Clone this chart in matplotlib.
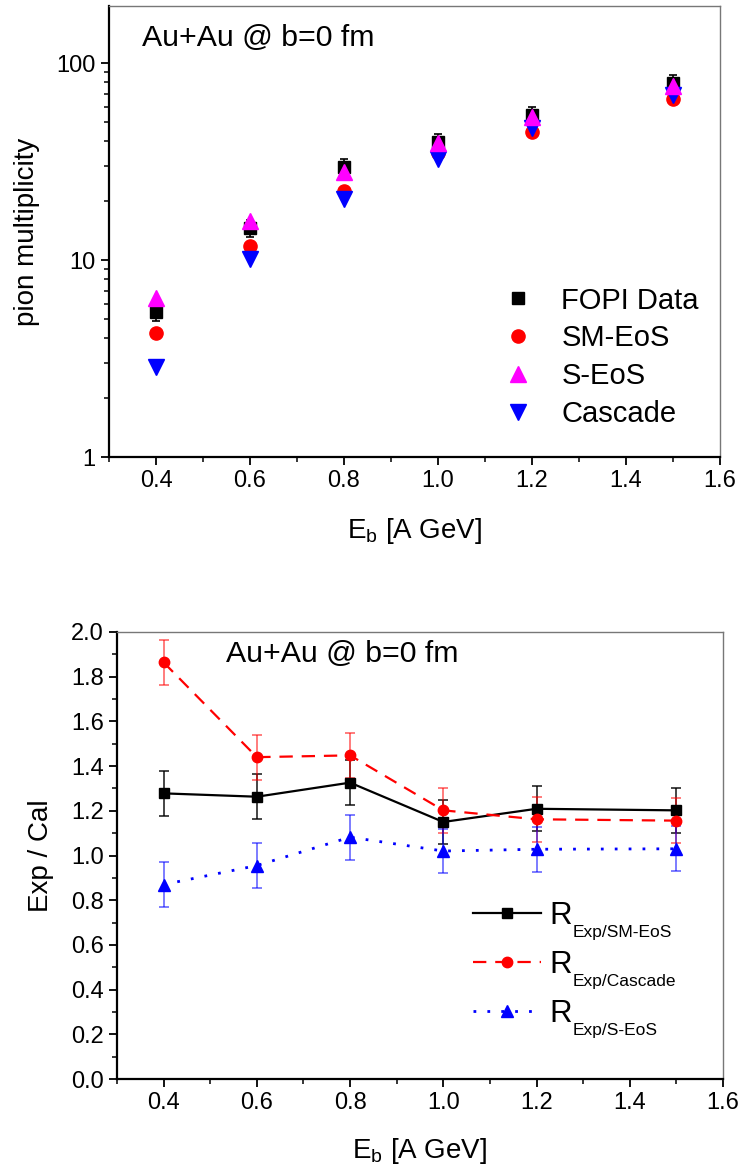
import numpy as np
import matplotlib
matplotlib.use('Agg')
import matplotlib.pyplot as plt
from matplotlib.ticker import FixedLocator, MultipleLocator, NullFormatter, LogLocator
from matplotlib import font_manager

plt.rcParams['font.family'] = ['Liberation Sans', 'DejaVu Sans']
plt.rcParams['mathtext.fontset'] = 'custom'
plt.rcParams['mathtext.rm'] = 'Liberation Sans'
plt.rcParams['mathtext.it'] = 'Liberation Sans:italic'

names = {f.name for f in font_manager.fontManager.ttflist}
narrow = 'Liberation Sans Narrow' if 'Liberation Sans Narrow' in names else 'Liberation Sans'

# beam energies [A GeV]
energy = [0.4, 0.6, 0.8, 1.0, 1.2, 1.5]

# pion multiplicities
fopi = [5.45, 14.5, 29.6, 39.7, 54.5, 79.0]
fopi_err = [0.55, 1.45, 2.9, 3.9, 5.4, 7.8]
sm_eos = [4.26, 11.8, 22.4, 34.9, 44.7, 65.6]
s_eos = [6.4, 15.8, 28.0, 39.3, 53.2, 76.4]
cascade = [2.86, 10.1, 20.4, 32.6, 46.8, 68.8]

# ratios exp / cal
r_sm = [1.278, 1.263, 1.326, 1.150, 1.209, 1.202]
r_casc = [1.864, 1.440, 1.448, 1.202, 1.162, 1.156]
r_s = [0.870, 0.955, 1.082, 1.020, 1.028, 1.030]
r_err = [0.1, 0.1, 0.1, 0.1, 0.1, 0.1]
r_subs = ['Exp/SM-EoS', 'Exp/Cascade', 'Exp/S-EoS']

fig = plt.figure(figsize=(7.41, 11.76), dpi=100)


def style_axes(ax):
    for s in ['left', 'bottom']:
        ax.spines[s].set_linewidth(1.6)
        ax.spines[s].set_color('black')
    for s in ['top', 'right']:
        ax.spines[s].set_linewidth(1.0)
        ax.spines[s].set_color('#777777')
    ax.tick_params(which='major', direction='out', length=6, width=1.3,
                   labelsize=17, top=False, right=False)
    ax.tick_params(which='minor', direction='out', length=3.5, width=1.1,
                   top=False, right=False)
    for lab in ax.get_xticklabels() + ax.get_yticklabels():
        lab.set_family([narrow, 'DejaVu Sans'])


# ---- top panel ----
ax1 = fig.add_axes([109/741, 1 - 457/1176, 611/741, 451/1176])
ax1.set_yscale('log')
ax1.errorbar(energy, fopi, yerr=fopi_err, fmt='none', ecolor='black',
             elinewidth=1.2, capsize=3, capthick=1.2, zorder=2)
ax1.plot(energy, fopi, 's', color='black', ms=9, label='FOPI Data', zorder=3)
ax1.plot(energy, sm_eos, 'o', color='#ff0000', ms=9.5, label='SM-EoS', zorder=3)
ax1.plot(energy, s_eos, '^', color='#ff00ff', ms=11, label='S-EoS', zorder=4)
ax1.plot(energy, cascade, 'v', color='#0000ff', ms=11, label='Cascade', zorder=3)
ax1.set_xlim(0.3, 1.6)
ax1.set_ylim(1, 195)
ax1.xaxis.set_major_locator(MultipleLocator(0.2))
ax1.xaxis.set_minor_locator(MultipleLocator(0.1))
ax1.xaxis.set_major_formatter(plt.FormatStrFormatter('%.1f'))
ax1.yaxis.set_major_locator(FixedLocator([1, 10, 100]))
ax1.yaxis.set_major_formatter(plt.FuncFormatter(lambda v, p: '%d' % v))
ax1.yaxis.set_minor_locator(LogLocator(base=10, subs=np.arange(2, 10)))
ax1.yaxis.set_minor_formatter(NullFormatter())
style_axes(ax1)
ax1.set_ylabel('pion multiplicity', fontsize=20, labelpad=12)
ax1.set_xlabel(r'E$_\mathregular{b}$ [A GeV]', fontsize=20,
               family=[narrow, 'DejaVu Sans'], labelpad=17)
ax1.text(0.054, 0.93, 'Au+Au @ b=0 fm', transform=ax1.transAxes,
         fontsize=21.8, va='center', ha='left')
leg1 = ax1.legend(loc='upper left', bbox_to_anchor=(0.645, 0.378), frameon=False,
                  fontsize=21, handlelength=1.0, handletextpad=1.0,
                  labelspacing=0.34, borderaxespad=0, borderpad=0)

# ---- bottom panel ----
ax2 = fig.add_axes([117/741, 1 - 1079/1176, 606/741, 447/1176])
ax2.errorbar(energy, r_sm, yerr=r_err, fmt='none', ecolor='black',
             elinewidth=1.2, capsize=3.6, capthick=1.2, alpha=0.85, zorder=2)
ax2.errorbar(energy, r_casc, yerr=r_err, fmt='none', ecolor='#ff0000',
             elinewidth=1.2, capsize=3.6, capthick=1.2, alpha=0.6, zorder=2)
ax2.errorbar(energy, r_s, yerr=r_err, fmt='none', ecolor='#0000ff',
             elinewidth=1.2, capsize=3.6, capthick=1.2, alpha=0.6, zorder=2)
ax2.plot(energy, r_sm, '-s', color='black', lw=1.6, ms=6.5, label='R', zorder=3)
ax2.plot(energy, r_casc, '--o', color='#ff0000', lw=1.6, ms=7.5, dashes=(6, 4),
         label='R', zorder=3)
ax2.plot(energy, r_s, ':^', color='#0000ff', lw=2.0, ms=8, dashes=(1, 4),
         label='R', zorder=3)
ax2.set_xlim(0.3, 1.6)
ax2.set_ylim(0, 2.0)
ax2.xaxis.set_major_locator(MultipleLocator(0.2))
ax2.xaxis.set_minor_locator(MultipleLocator(0.1))
ax2.xaxis.set_major_formatter(plt.FormatStrFormatter('%.1f'))
ax2.yaxis.set_major_locator(MultipleLocator(0.2))
ax2.yaxis.set_minor_locator(MultipleLocator(0.1))
ax2.yaxis.set_major_formatter(plt.FormatStrFormatter('%.1f'))
style_axes(ax2)
ax2.set_ylabel('Exp / Cal', fontsize=20, labelpad=12)
ax2.set_xlabel(r'E$_\mathregular{b}$ [A GeV]', fontsize=20,
               family=[narrow, 'DejaVu Sans'], labelpad=16)
ax2.text(0.18, 0.95, 'Au+Au @ b=0 fm', transform=ax2.transAxes,
         fontsize=21.8, va='center', ha='left')
leg2 = ax2.legend(loc='upper left', bbox_to_anchor=(0.587, 0.398), frameon=False,
                  fontsize=22.5, handlelength=2.2, handletextpad=0.25,
                  labelspacing=0.6, borderaxespad=0, borderpad=0)

# subscripts after the big R in the legend (positions known only after a draw)
fig.canvas.draw()
rend = fig.canvas.get_renderer()
for t, sub in zip(leg2.get_texts(), r_subs):
    bb = t.get_window_extent(rend)
    fig.text((bb.x1 + 0.5) / fig.bbox.width, (bb.y0 - 6) / fig.bbox.height, sub,
             fontsize=12.5, ha='left', va='baseline')

fig.savefig('out.png', dpi=100)
